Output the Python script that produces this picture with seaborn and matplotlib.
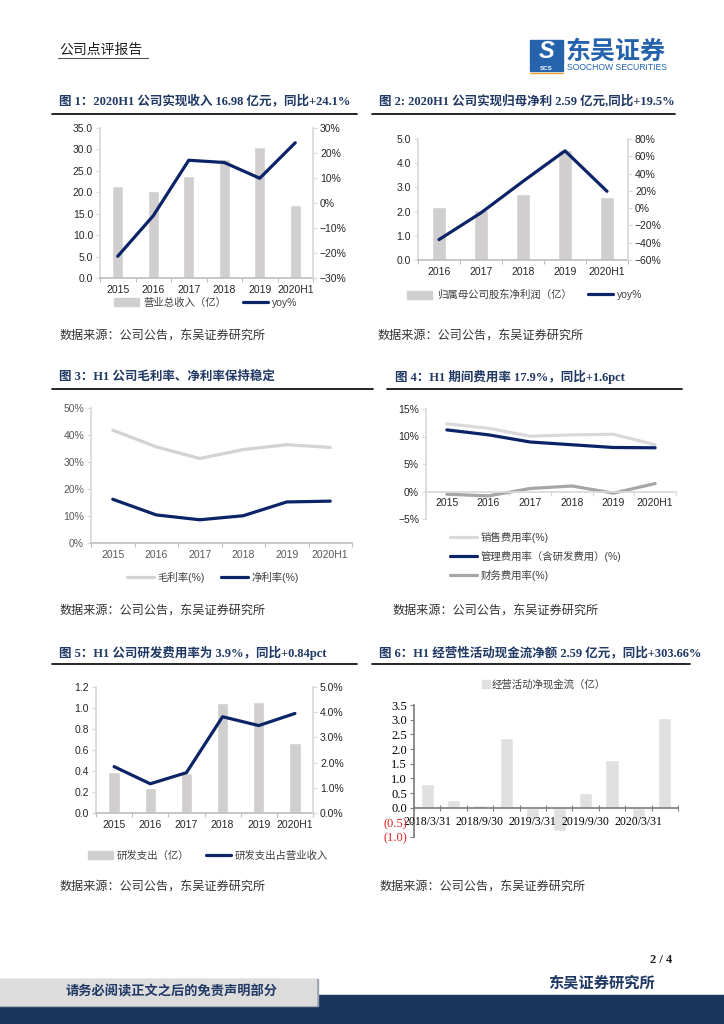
import numpy as np
import pandas as pd
import seaborn as sns
import matplotlib.pyplot as plt
from matplotlib.lines import Line2D
from matplotlib.patches import Patch, Rectangle
from matplotlib.ticker import FuncFormatter, FixedLocator

# ---- data ----
years = ['2015', '2016', '2017', '2018', '2019', '2020H1']
revenue = [21.4, 20.4, 23.8, 27.7, 30.5, 16.98]
revenue_yoy = [-21.3, -5.1, 17.1, 16.2, 9.9, 24.1]

years2 = ['2016', '2017', '2018', '2019', '2020H1']
net_profit = [2.18, 2.07, 2.72, 4.56, 2.59]
net_profit_yoy = [-36.4, -5.4, 31.0, 66.3, 19.5]

gross_margin = [41.8, 35.6, 31.3, 34.6, 36.4, 35.4]
net_margin = [16.2, 10.4, 8.6, 10.1, 15.2, 15.5]

sales_rate = [12.3, 11.5, 10.05, 10.3, 10.4, 8.5]
admin_rate = [11.2, 10.3, 9.0, 8.5, 8.0, 7.95]
fin_rate = [-0.5, -0.8, 0.55, 1.0, -0.3, 1.45]

rd_spend = [0.39, 0.24, 0.385, 1.05, 1.06, 0.67]
rd_ratio = [1.84, 1.16, 1.6, 3.82, 3.47, 3.95]

quarters = ['2018/3/31', '2018/6/30', '2018/9/30', '2018/12/31', '2019/3/31',
            '2019/6/30', '2019/9/30', '2019/12/31', '2020/3/31', '2020/6/30']
cash_flow = [0.82, 0.26, 0.09, 2.37, -0.42, -0.81, 0.51, 1.62, -0.38, 3.07]

# ---- styles ----
navy = '#0b2467'
bar_c = '#d0cece'
light = '#d3d3d3'
mid = '#a6a6a6'
title_c = '#1f3864'
spine_c = '#d9d9d9'

sns.set_theme(style='white')
plt.rcParams['font.family'] = ['Liberation Sans', 'Noto Sans CJK SC']
serif_cjk = ['Liberation Serif', 'Noto Sans CJK SC']

W, H = 724, 1024
fig = plt.figure(figsize=(7.24, 10.24), dpi=100)


def fx(x):
    return x / W


def fy(y):
    return 1 - y / H


def rect(l, t, r, b):
    return [l / W, 1 - b / H, (r - l) / W, (b - t) / H]


def hline(x0, x1, y, color='black', lw=1.2):
    fig.add_artist(Line2D([fx(x0), fx(x1)], [fy(y), fy(y)], color=color, lw=lw))


def title(x, y, s):
    fig.text(fx(x), fy(y), s, fontsize=9, weight='bold', color=title_c,
             va='center', family=serif_cjk)


def source(x, y):
    fig.text(fx(x), fy(y), '数据来源：公司公告，东吴证券研究所', fontsize=8.7,
             color='#333333', va='center', family=['Noto Sans CJK SC'])


def style_axes(ax, n, left=True, right=False, lab_c='#262626'):
    for side in ['top', 'right', 'left']:
        ax.spines[side].set_visible(False)
    if left:
        ax.spines['left'].set_visible(True)
        ax.spines['left'].set_color(spine_c)
    ax.spines['bottom'].set_color('#bfbfbf')
    ax.set_xlim(-0.5, n - 0.5)
    ax.xaxis.set_minor_locator(FixedLocator(np.arange(n + 1) - 0.5))
    ax.tick_params(axis='x', which='major', length=0, labelsize=7.5, colors=lab_c, pad=5)
    ax.tick_params(axis='x', which='minor', length=3, color='#bfbfbf', width=0.8, bottom=True)
    ax.tick_params(axis='y', length=3, color=spine_c, width=0.8, labelsize=7.5,
                   colors=lab_c, left=True, pad=2)
    ax.set_xlabel('')
    ax.set_ylabel('')
    ax.grid(False)


def right_axes(ax2):
    for side in ['top', 'left', 'bottom']:
        ax2.spines[side].set_visible(False)
    ax2.spines['right'].set_visible(True)
    ax2.spines['right'].set_color(spine_c)
    ax2.tick_params(axis='y', length=3, color=spine_c, width=0.8, labelsize=7.5,
                    colors='#262626', right=True, pad=2)
    ax2.set_ylabel('')
    ax2.grid(False)


pct0 = FuncFormatter(lambda v, p: f'{v:.0f}%'.replace('-', '−'))

# ---- header ----
fig.text(fx(59), fy(50), '公司点评报告', fontsize=10, color='#1f1f1f', va='center',
         family=['Noto Sans CJK SC'])
hline(58, 148, 58, color='#555555', lw=0.8)
fig.add_artist(Rectangle((fx(530), fy(64)), fx(33), 24 / H, color='#2563ad'))
fig.text(fx(546.5), fy(52), 'S', fontsize=17, weight='bold', style='italic',
         color='white', ha='center', va='center')
fig.add_artist(Rectangle((fx(530), fy(71)), fx(33), 6 / H, color='#2563ad'))
fig.text(fx(546.5), fy(68), 'SCS', fontsize=4.5, weight='bold', color='white',
         ha='center', va='center')
hline(530, 563, 72.5, color='#f0a030', lw=1)
fig.text(fx(566), fy(52), '东吴证券', fontsize=18, weight='bold', color='#2563ad',
         va='center', family=['Noto Sans CJK SC'])
fig.text(fx(567), fy(68), 'SOOCHOW SECURITIES', fontsize=6.2, color='#2563ad', va='center')

# ---- chart 1 ----
title(59, 101, '图 1：2020H1 公司实现收入 16.98 亿元，同比+24.1%')
hline(52, 357, 114)
ax = fig.add_axes(rect(100, 128, 313, 278))
sns.barplot(x=years, y=revenue, color=bar_c, saturation=1, width=0.31, ax=ax)
ax.set_ylim(0, 35)
ax.set_yticks(np.arange(0, 35.1, 5))
ax.yaxis.set_major_formatter(FuncFormatter(lambda v, p: f'{v:.1f}'))
style_axes(ax, len(years))
ax2 = ax.twinx()
sns.lineplot(x=years, y=revenue_yoy, color=navy, linewidth=2.3, sort=False, ax=ax2)
ax2.set_ylim(-30, 30)
ax2.set_yticks(np.arange(-30, 31, 10))
ax2.yaxis.set_major_formatter(pct0)
right_axes(ax2)
ax.set_xlim(-0.5, len(years) - 0.5)
fig.legend(handles=[Patch(color=bar_c, label='营业总收入（亿）'),
                    Line2D([], [], color=navy, lw=2.3, label='yoy%')],
           loc='center', bbox_to_anchor=(fx(206), fy(303)), ncol=2, frameon=False,
           fontsize=7.5, handlelength=2.4, handleheight=0.8, columnspacing=1.6,
           handletextpad=0.4, labelcolor='#404040')
source(60, 335)

# ---- chart 2 ----
title(379, 101, '图 2: 2020H1 公司实现归母净利 2.59 亿元,同比+19.5%')
hline(372, 675, 114)
ax = fig.add_axes(rect(418, 139, 628, 260))
sns.barplot(x=years2, y=net_profit, color=bar_c, saturation=1, width=0.31, ax=ax)
ax.set_ylim(0, 5)
ax.set_yticks(np.arange(0, 5.1, 1))
ax.yaxis.set_major_formatter(FuncFormatter(lambda v, p: f'{v:.1f}'))
style_axes(ax, len(years2))
ax2 = ax.twinx()
sns.lineplot(x=years2, y=net_profit_yoy, color=navy, linewidth=2.3, sort=False, ax=ax2)
ax2.set_ylim(-60, 80)
ax2.set_yticks(np.arange(-60, 81, 20))
ax2.yaxis.set_major_formatter(pct0)
right_axes(ax2)
ax.set_xlim(-0.5, len(years2) - 0.5)
fig.legend(handles=[Patch(color=bar_c, label='归属母公司股东净利润（亿）'),
                    Line2D([], [], color=navy, lw=2.3, label='yoy%')],
           loc='center', bbox_to_anchor=(fx(525), fy(295)), ncol=2, frameon=False,
           fontsize=7.5, handlelength=2.4, handleheight=0.8, columnspacing=1.6,
           handletextpad=0.4, labelcolor='#404040')
source(378, 335)

# ---- chart 3 ----
title(59, 377, '图 3：H1 公司毛利率、净利率保持稳定')
hline(52, 373, 389)
ax = fig.add_axes(rect(91, 408, 352, 543))
sns.lineplot(x=years, y=gross_margin, color=light, linewidth=2.3, sort=False, ax=ax)
sns.lineplot(x=years, y=net_margin, color=navy, linewidth=2.3, sort=False, ax=ax)
ax.set_ylim(0, 50)
ax.set_yticks(np.arange(0, 51, 10))
ax.yaxis.set_major_formatter(pct0)
style_axes(ax, len(years), lab_c='#595959')
ax.legend(handles=[Line2D([], [], color=light, lw=2.3, label='毛利率(%)'),
                   Line2D([], [], color=navy, lw=2.3, label='净利率(%)')],
          loc='center', bbox_to_anchor=(fx(213), fy(577)), bbox_transform=fig.transFigure,
          ncol=2, frameon=False, fontsize=7.5, handlelength=2.6, columnspacing=1.6,
          handletextpad=0.3, labelcolor='#404040')
source(60, 610)

# ---- chart 4 ----
title(395, 377, '图 4：H1 期间费用率 17.9%，同比+1.6pct')
hline(387, 682, 389)
ax = fig.add_axes(rect(426, 409, 676, 519))
sns.lineplot(x=years, y=sales_rate, color='#d9d9d9', linewidth=2.3, sort=False, ax=ax)
sns.lineplot(x=years, y=admin_rate, color=navy, linewidth=2.3, sort=False, ax=ax)
sns.lineplot(x=years, y=fin_rate, color=mid, linewidth=2.3, sort=False, ax=ax)
ax.set_ylim(-5, 15)
ax.set_yticks(np.arange(-5, 16, 5))
ax.yaxis.set_major_formatter(pct0)
style_axes(ax, len(years))
ax.spines['bottom'].set_position(('data', 0))
ax.spines['bottom'].set_color(spine_c)
ax.tick_params(axis='x', which='minor', color=spine_c)
ax.legend(handles=[Line2D([], [], color='#d9d9d9', lw=2.3, label='销售费用率(%)'),
                   Line2D([], [], color=navy, lw=2.3, label='管理费用率（含研发费用）(%)'),
                   Line2D([], [], color=mid, lw=2.3, label='财务费用率(%)')],
          loc='upper left', bbox_to_anchor=(fx(450), fy(532)), bbox_transform=fig.transFigure,
          ncol=1, frameon=False, fontsize=7.5, handlelength=2.6, labelspacing=0.75,
          handletextpad=0.3, labelcolor='#404040', borderaxespad=0, borderpad=0)
source(393, 610)

# ---- chart 5 ----
title(59, 653, '图 5：H1 公司研发费用率为 3.9%，同比+0.84pct')
hline(52, 357, 664)
ax = fig.add_axes(rect(96, 687, 313, 813))
sns.barplot(x=years, y=rd_spend, color=bar_c, saturation=1, width=0.31, ax=ax)
ax.set_ylim(0, 1.2)
ax.set_yticks(np.arange(0, 1.21, 0.2))
ax.yaxis.set_major_formatter(FuncFormatter(lambda v, p: f'{v:.1f}'))
style_axes(ax, len(years))
ax2 = ax.twinx()
sns.lineplot(x=years, y=rd_ratio, color=navy, linewidth=2.3, sort=False, ax=ax2)
ax2.set_ylim(0, 5)
ax2.set_yticks(np.arange(0, 5.1, 1))
ax2.yaxis.set_major_formatter(FuncFormatter(lambda v, p: f'{v:.1f}%'))
right_axes(ax2)
ax.set_xlim(-0.5, len(years) - 0.5)
fig.legend(handles=[Patch(color=bar_c, label='研发支出（亿）'),
                    Line2D([], [], color=navy, lw=2.3, label='研发支出占营业收入')],
           loc='center', bbox_to_anchor=(fx(208), fy(856)), ncol=2, frameon=False,
           fontsize=7.5, handlelength=2.4, handleheight=0.8, columnspacing=1.6,
           handletextpad=0.4, labelcolor='#404040')
source(60, 886)

# ---- chart 6 ----
title(379, 653, '图 6：H1 经营性活动现金流净额 2.59 亿元，同比+303.66%')
hline(372, 690, 664)
ax = fig.add_axes(rect(414, 705, 678, 837))
sns.barplot(x=quarters, y=cash_flow, color='#e0e0e0', saturation=1, width=0.5, ax=ax)
ax.set_axisbelow(False)
ax.set_ylim(-1.0, 3.5)
ax.set_yticks(np.arange(-1.0, 3.51, 0.5))
ax.yaxis.set_major_formatter(
    FuncFormatter(lambda v, p: f'({abs(v):.1f})' if v < -1e-9 else f'{abs(v):.1f}'))
for side in ['top', 'right']:
    ax.spines[side].set_visible(False)
ax.spines['left'].set_color('#808080')
ax.spines['bottom'].set_position(('data', 0))
ax.spines['bottom'].set_color('#808080')
n6 = len(quarters)
ax.set_xlim(-0.5, n6 - 0.5)
ax.set_xticks(np.arange(0, n6, 2))
ax.set_xticklabels(quarters[::2], family='Liberation Serif', fontsize=8.5)
ax.xaxis.set_minor_locator(FixedLocator(np.arange(n6 + 1) - 0.5))
ax.tick_params(axis='x', which='major', length=0, pad=6, colors='black')
ax.tick_params(axis='x', which='minor', length=4, direction='inout', color='#808080',
               width=0.8, bottom=True)
ax.tick_params(axis='y', length=3, color='#808080', width=0.8, left=True, pad=2)
for lab in ax.get_yticklabels():
    lab.set_family('Liberation Serif')
    lab.set_fontsize(9)
    if lab.get_text().startswith('('):
        lab.set_color('#e02020')
    else:
        lab.set_color('black')
ax.set_xlabel('')
ax.set_ylabel('')
ax.grid(False)
fig.legend(handles=[Patch(color='#e0e0e0', label='经营活动净现金流（亿）')],
           loc='center', bbox_to_anchor=(fx(544), fy(684)), frameon=False,
           fontsize=7.5, handlelength=0.8, handleheight=0.8, handletextpad=0.2,
           labelcolor='#404040')
source(380, 886)

# ---- footer ----
fig.text(fx(672), fy(960), '2 / 4', fontsize=9, weight='bold', ha='right', va='center',
         family='Liberation Serif', color='#1f1f1f')
fig.text(fx(655), fy(983), '东吴证券研究所', fontsize=11, weight='bold', ha='right',
         va='center', color=title_c, family=['Noto Sans CJK SC'])
fig.add_artist(Rectangle((0, 0), 1, 29 / H, color='#1a365d'))
fig.add_artist(Rectangle((0, fy(1006)), fx(318), 27 / H, color='#9aa3ad'))
fig.add_artist(Rectangle((0, fy(1005)), fx(316), 26 / H, color='#dcdcdc'))
fig.text(fx(65), fy(992), '请务必阅读正文之后的免责声明部分', fontsize=9.5, weight='bold',
         va='center', color=title_c, family=['Noto Sans CJK SC'])

fig.savefig('out.png', dpi=100)
